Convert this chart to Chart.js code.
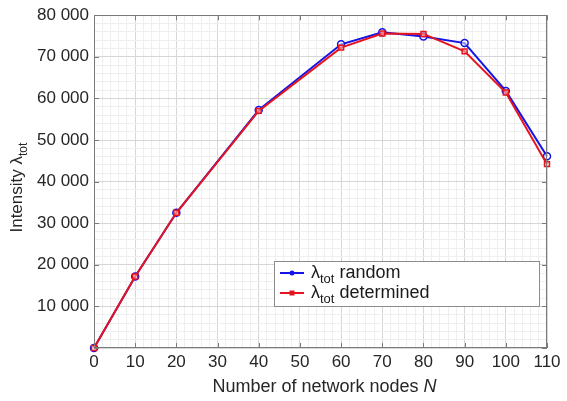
<!DOCTYPE html>
<html>
<head>
<meta charset="utf-8">
<script src="https://cdn.jsdelivr.net/npm/chart.js@4"></script>
<style>
  html, body { margin: 0; padding: 0; background: #fff; }
  #wrap { width: 567px; height: 401px; position: relative; }
</style>
</head>
<body>
<div id="wrap"><canvas id="intensidad"></canvas></div>
<script>
// datos
const nodes = [0, 10, 20, 40, 60, 70, 80, 90, 100, 110];
const lambdaRandom = [0, 17200, 32500, 57200, 73000, 75900, 74900, 73300, 61800, 46100];
const lambdaDetermined = [0, 17200, 32500, 57000, 72200, 75600, 75500, 71300, 61400, 44200];

const FONT = "'Liberation Sans', Arial, sans-serif";
const BLUE = '#1414e6';
const RED = '#e5141e';

function fmt(v) {
  return String(v).replace(/\B(?=(\d{3})+(?!\d))/g, ' ');
}

// texto con subindice: partes [{t, sub, italic}]
function drawParts(ctx, parts, x, y, size, align) {
  let widths = parts.map(p => {
    ctx.font = (p.italic ? 'italic ' : '') + (p.sub ? Math.round(size * 0.72) : size) + 'px ' + FONT;
    return ctx.measureText(p.t).width;
  });
  let total = widths.reduce((a, b) => a + b, 0);
  let cx = align === 'center' ? x - total / 2 : x;
  ctx.textAlign = 'left';
  ctx.textBaseline = 'alphabetic';
  parts.forEach((p, i) => {
    ctx.font = (p.italic ? 'italic ' : '') + (p.sub ? Math.round(size * 0.72) : size) + 'px ' + FONT;
    ctx.fillText(p.t, cx, y + (p.sub ? size * 0.3 : 0));
    cx += widths[i];
  });
}

const extras = {
  id: 'extras',
  afterDraw(chart) {
    const { ctx, chartArea: a, scales: { x, y } } = chart;
    ctx.save();

    // marco y marcas interiores
    ctx.strokeStyle = '#7a7a7a';
    ctx.lineWidth = 1;
    ctx.strokeRect(Math.round(a.left) + 0.5, Math.round(a.top) + 0.5, Math.round(a.width) - 1, Math.round(a.height) - 1);
    ctx.beginPath();
    x.ticks.filter(t => t.value % 10 === 0).forEach(t => {
      const px = Math.round(x.getPixelForValue(t.value)) + 0.5;
      ctx.moveTo(px, a.bottom); ctx.lineTo(px, a.bottom - 5);
      ctx.moveTo(px, a.top); ctx.lineTo(px, a.top + 5);
    });
    y.ticks.filter(t => t.value % 10000 === 0).forEach(t => {
      const py = Math.round(y.getPixelForValue(t.value)) + 0.5;
      ctx.moveTo(a.left, py); ctx.lineTo(a.left + 5, py);
      ctx.moveTo(a.right, py); ctx.lineTo(a.right - 5, py);
    });
    ctx.stroke();

    ctx.fillStyle = '#262626';
    // titulo eje x
    drawParts(ctx, [{ t: 'Number of network nodes ' }, { t: 'N', italic: true }],
      (a.left + a.right) / 2 + 4, 392, 18, 'center');
    // titulo eje y
    ctx.save();
    ctx.translate(22, (a.top + a.bottom) / 2 + 6);
    ctx.rotate(-Math.PI / 2);
    drawParts(ctx, [{ t: 'Intensity \u03bb' }, { t: 'tot', sub: true }], 0, 0, 17, 'center');
    ctx.restore();

    // leyenda
    const lx = 274, ly = 261, lw = 265, lh = 45;
    ctx.fillStyle = '#fff';
    ctx.fillRect(lx, ly, lw, lh);
    ctx.strokeStyle = '#8c8c8c';
    ctx.strokeRect(lx + 0.5, ly + 0.5, lw, lh);
    const rows = [
      { color: BLUE, name: 'random', shape: 'circle', cy: 273 },
      { color: RED, name: 'determined', shape: 'rect', cy: 293 }
    ];
    rows.forEach(r => {
      ctx.strokeStyle = r.color;
      ctx.lineWidth = 2;
      ctx.beginPath();
      ctx.moveTo(280, r.cy); ctx.lineTo(304, r.cy);
      ctx.stroke();
      ctx.fillStyle = r.color;
      ctx.beginPath();
      if (r.shape === 'circle') ctx.arc(292, r.cy, 2.5, 0, Math.PI * 2);
      else ctx.rect(289.5, r.cy - 2.5, 5, 5);
      ctx.fill();
      ctx.fillStyle = '#1a1a1a';
      drawParts(ctx, [{ t: '\u03bb' }, { t: 'tot', sub: true }, { t: ' ' + r.name }], 311, r.cy + 5, 18, 'left');
    });
    ctx.restore();
  }
};

new Chart(document.getElementById('intensidad'), {
  type: 'line',
  data: {
    labels: nodes,
    datasets: [
      {
        label: 'random',
        data: nodes.map((n, i) => ({ x: n, y: lambdaRandom[i] })),
        borderColor: BLUE,
        backgroundColor: 'rgba(255,255,255,0.5)',
        borderWidth: 2,
        pointStyle: 'circle',
        pointRadius: 3.5,
        pointBorderWidth: 1.5,
        clip: false,
        order: 2
      },
      {
        label: 'determined',
        data: nodes.map((n, i) => ({ x: n, y: lambdaDetermined[i] })),
        borderColor: RED,
        backgroundColor: 'rgba(255,200,200,0.5)',
        borderWidth: 2,
        pointStyle: 'rect',
        pointRadius: 3.5,
        pointBorderWidth: 1.5,
        clip: false,
        order: 1
      }
    ]
  },
  options: {
    responsive: true,
    maintainAspectRatio: false,
    animation: false,
    layout: { padding: { left: 0, top: 15, right: 20, bottom: 0 } },
    plugins: {
      legend: { display: false },
      tooltip: { enabled: false }
    },
    scales: {
      x: {
        type: 'linear',
        min: 0,
        max: 110,
        afterFit: s => { s.height = 53; },
        ticks: {
          stepSize: 2,
          autoSkip: false,
          maxRotation: 0,
          padding: 4,
          color: '#262626',
          font: { family: FONT, size: 17 },
          callback: v => (v % 10 === 0 ? String(v) : '')
        },
        grid: {
          drawTicks: false,
          color: c => (c.tick && c.tick.value % 10 === 0 ? '#d6d6d6' : '#efefef')
        },
        border: { display: false }
      },
      y: {
        min: 0,
        max: 80000,
        afterFit: s => { s.width = 94; },
        ticks: {
          stepSize: 2000,
          autoSkip: false,
          padding: 5,
          color: '#262626',
          font: { family: FONT, size: 17 },
          callback: v => (v % 10000 === 0 && v > 0 ? fmt(v) : '')
        },
        grid: {
          drawTicks: false,
          color: c => (c.tick && c.tick.value % 10000 === 0 ? '#d6d6d6' : '#efefef')
        },
        border: { display: false }
      }
    }
  },
  plugins: [extras]
});
</script>
</body>
</html>
